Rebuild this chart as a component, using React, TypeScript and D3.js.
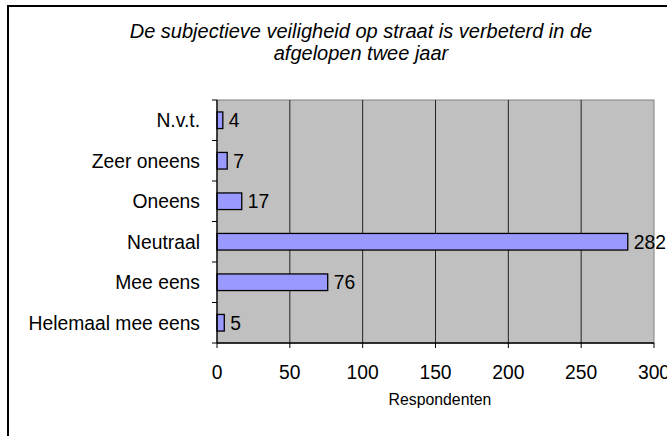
import React from "react";
import * as d3 from "d3";

const categories = ["N.v.t.", "Zeer oneens", "Oneens", "Neutraal", "Mee eens", "Helemaal mee eens"];
const values = [4, 7, 17, 282, 76, 5];
const xTicks = [0, 50, 100, 150, 200, 250, 300];
const titleLines = ["De subjectieve veiligheid op straat is verbeterd in de", "afgelopen twee jaar"];
const xAxisTitle = "Respondenten";

const W = 667;
const H = 436;
const plot = { left: 217, right: 654, top: 100, bottom: 343 };
const FONT = "'Liberation Sans', Arial, Helvetica, sans-serif";
const LABEL_SIZE = 19.3;

export default function App() {
  const x = d3.scaleLinear().domain([0, 300]).range([plot.left, plot.right]);
  const y = d3.scaleBand<string>().domain(categories).range([plot.top, plot.bottom]).padding(0);
  const bw = y.bandwidth();
  const barH = bw * 0.41;
  const boundaries = d3.range(categories.length + 1).map((i) => plot.top + i * bw);

  return (
    <svg width={W} height={H} style={{ position: "absolute", left: 0, top: 0, background: "#fff" }} fontFamily={FONT}>
      <rect x={8} y={6} width={720} height={500} fill="#fff" stroke="#000" strokeWidth={2} />
      {titleLines.map((t, i) => (
        <text key={i} x={361} y={37.5 + i * 22.5} textAnchor="middle" fontSize={20} fontStyle="italic" fill="#000">
          {t}
        </text>
      ))}
      <rect x={plot.left} y={plot.top} width={plot.right - plot.left} height={plot.bottom - plot.top} fill="#c0c0c0" stroke="#808080" strokeWidth={1} />
      {xTicks.slice(1, -1).map((t) => (
        <line key={t} x1={x(t)} x2={x(t)} y1={plot.top} y2={plot.bottom} stroke="#222" strokeWidth={1} />
      ))}
      {categories.map((c, i) => {
        const yc = (y(c) as number) + bw / 2;
        return (
          <g key={c}>
            <rect x={x(0)} y={yc - barH / 2} width={x(values[i]) - x(0)} height={barH} fill="#9999ff" stroke="#000" strokeWidth={1.3} />
            <text x={x(values[i]) + 6} y={yc} dy="0.36em" fontSize={LABEL_SIZE} fill="#000">
              {values[i]}
            </text>
            <text x={200} y={yc} dy="0.36em" textAnchor="end" fontSize={LABEL_SIZE} fill="#000">
              {c}
            </text>
          </g>
        );
      })}
      <line x1={plot.left} x2={plot.left} y1={plot.top} y2={plot.bottom} stroke="#000" strokeWidth={1.3} />
      <line x1={plot.left} x2={plot.right} y1={plot.bottom} y2={plot.bottom} stroke="#000" strokeWidth={1.3} />
      {boundaries.map((b, i) => (
        <line key={i} x1={plot.left - 5} x2={plot.left} y1={b} y2={b} stroke="#000" strokeWidth={1} />
      ))}
      {xTicks.map((t) => (
        <g key={t}>
          <line x1={x(t)} x2={x(t)} y1={plot.bottom} y2={plot.bottom + 5} stroke="#000" strokeWidth={1} />
          <text x={x(t)} y={378.5} textAnchor="middle" fontSize={LABEL_SIZE} fill="#000">
            {t}
          </text>
        </g>
      ))}
      <text x={440} y={405} textAnchor="middle" fontSize={15.8} fill="#000">
        {xAxisTitle}
      </text>
    </svg>
  );
}
